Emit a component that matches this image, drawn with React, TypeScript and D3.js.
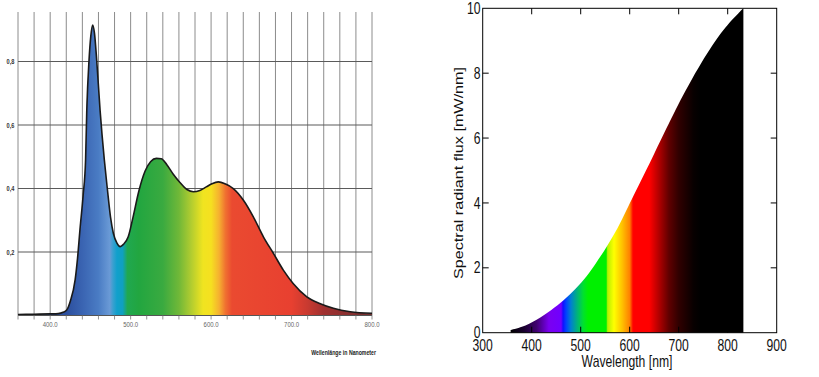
import React from "react";
import * as d3 from "d3";

// ---------- Left chart (LED spectrum) ----------
const leftWavelengths = [360, 380, 400, 410, 416, 420.5, 425, 431, 434, 437, 441, 444, 445.5, 448.3, 450.5, 452.8, 455, 457.8, 462, 467.3, 471, 475, 478.5, 483, 487, 491, 497, 503, 510, 518, 525, 532, 538, 545, 553, 561, 570, 578, 586, 594, 601, 609, 618, 627.6, 640, 652.5, 665, 677.4, 689.8, 702, 719, 735, 752, 773, 800];
const leftValues = [0.003, 0.004, 0.005, 0.006, 0.01, 0.017, 0.045, 0.112, 0.18, 0.27, 0.38, 0.49, 0.647, 0.805, 0.88, 0.915, 0.89, 0.805, 0.647, 0.49, 0.4, 0.31, 0.259, 0.228, 0.217, 0.224, 0.248, 0.31, 0.39, 0.455, 0.485, 0.495, 0.494, 0.475, 0.445, 0.42, 0.397, 0.39, 0.394, 0.405, 0.415, 0.421, 0.414, 0.4, 0.364, 0.311, 0.248, 0.196, 0.143, 0.101, 0.059, 0.038, 0.023, 0.012, 0.007];
const leftXTicks = [400, 500, 600, 700, 800];
const leftXGrid = d3.range(360, 801, 20);
const leftYTicks = [0.2, 0.4, 0.6, 0.8];
const leftStopWl = [360, 420, 440, 460, 474, 478, 483, 490, 496, 510, 540, 560, 575, 590, 600, 610, 618, 626, 700, 720, 740, 770, 800];
const leftStopColor = ["#2c4f9e", "#2c4f9e", "#3a64b2", "#4a7cc4", "#6a9ad6", "#3aa0d0", "#10a0cc", "#10a0c0", "#20a850", "#22a640", "#3aaa40", "#70b838", "#b0cc30", "#f0e420", "#f5e020", "#f5b030", "#f07030", "#ea4a30", "#e84030", "#c83a30", "#a03030", "#8a3030", "#703030"];

// ---------- Right chart (spectral radiant flux) ----------
const rightWavelengths = [357, 380, 410, 440, 465, 490, 512, 530, 553, 575, 594, 607, 630, 650, 675, 690, 709, 730, 744, 760, 778, 795, 811, 822, 832];
const rightValues = [0.08, 0.18, 0.4, 0.7, 1.0, 1.36, 1.74, 2.12, 2.65, 3.22, 3.8, 4.2, 4.9, 5.52, 6.3, 6.76, 7.32, 7.9, 8.26, 8.65, 9.06, 9.4, 9.68, 9.85, 10.0];
const rightXTicks = [300, 400, 500, 600, 700, 800, 900];
const rightYTicks = [0, 2, 4, 6, 8, 10];
const rightStopWl = [357, 385, 410, 435, 460, 464, 470, 480, 492, 505, 515, 552, 555, 568, 585, 600, 606, 608, 640, 660, 680, 700, 730, 745, 832];
const rightStopColor = ["#000000", "#1a0030", "#400070", "#7a00f0", "#7000ff", "#1010ff", "#0040ff", "#0080d0", "#00b080", "#00e030", "#00f000", "#00f000", "#b8f000", "#ffff00", "#ffc000", "#ff8000", "#ff1000", "#ff0000", "#ff0000", "#b00000", "#600000", "#300000", "#080000", "#000000", "#000000"];

export default function App() {
  const lx = d3.scaleLinear().domain([360, 800]).range([18, 372]);
  const ly = d3.scaleLinear().domain([0, 0.956]).range([315.5, 12]);
  const rx = d3.scaleLinear().domain([300, 900]).range([482.7, 776.7]);
  const ry = d3.scaleLinear().domain([0, 10]).range([332.7, 8.3]);

  const leftData = leftWavelengths.map((w, i) => [w, leftValues[i]] as [number, number]);
  const rightData = rightWavelengths.map((w, i) => [w, rightValues[i]] as [number, number]);

  const leftArea = d3.area<[number, number]>().x(d => lx(d[0])).y0(ly(0)).y1(d => ly(d[1])).curve(d3.curveMonotoneX)(leftData) || "";
  const leftLine = d3.line<[number, number]>().x(d => lx(d[0])).y(d => ly(d[1])).curve(d3.curveMonotoneX)(leftData) || "";
  const rightArea = d3.area<[number, number]>().x(d => rx(d[0])).y0(ry(0)).y1(d => ry(d[1])).curve(d3.curveCatmullRom.alpha(0.5))(rightData) || "";

  const lg0 = lx(leftStopWl[0]), lg1 = lx(leftStopWl[leftStopWl.length - 1]);
  const rg0 = rx(rightStopWl[0]), rg1 = rx(rightStopWl[rightStopWl.length - 1]);

  const narrow = "'Liberation Sans', Arial, sans-serif";
  const tickLen = 6;

  return (
    <svg width={819} height={377} style={{ position: "absolute", left: 0, top: 0, background: "#fff" }}>
      <defs>
        <linearGradient id="leftGrad" gradientUnits="userSpaceOnUse" x1={lg0} x2={lg1} y1={0} y2={0}>
          {leftStopWl.map((w, i) => (
            <stop key={i} offset={(lx(w) - lg0) / (lg1 - lg0)} stopColor={leftStopColor[i]} />
          ))}
        </linearGradient>
        <linearGradient id="rightGrad" gradientUnits="userSpaceOnUse" x1={rg0} x2={rg1} y1={0} y2={0}>
          {rightStopWl.map((w, i) => (
            <stop key={i} offset={(rx(w) - rg0) / (rg1 - rg0)} stopColor={rightStopColor[i]} />
          ))}
        </linearGradient>
      </defs>

      {/* ---- Left chart ---- */}
      <g>
        {leftXGrid.map(w => (
          <line key={"vg" + w} x1={lx(w)} x2={lx(w)} y1={12} y2={ly(0)} stroke="#8c8c8c" strokeWidth={1} />
        ))}
        {leftYTicks.map(v => (
          <line key={"hg" + v} x1={18} x2={372} y1={ly(v)} y2={ly(v)} stroke="#5a5a5a" strokeWidth={1.1} />
        ))}
        <path d={leftArea} fill="url(#leftGrad)" />
        <path d={leftLine} fill="none" stroke="#1a1a1a" strokeWidth={1.6} />
        <line x1={18} x2={372} y1={ly(0)} y2={ly(0)} stroke="#555" strokeWidth={1} />
        {leftXGrid.map(w => (
          <line key={"xt" + w} x1={lx(w)} x2={lx(w)} y1={ly(0)} y2={ly(0) + 4} stroke="#777" strokeWidth={0.8} />
        ))}
        {leftXTicks.map(w => (
          <text key={"xl" + w} transform={`translate(${lx(w)},${327}) scale(0.8,1)`} textAnchor="middle" fontSize={7.5} fontFamily={narrow} fill="#666">
            {w.toFixed(1)}
          </text>
        ))}
        {leftYTicks.map(v => (
          <text key={"yl" + v} transform={`translate(${10.5},${ly(v) + 2.6}) scale(0.75,1)`} textAnchor="middle" fontSize={7.5} fontWeight="bold" fontFamily={narrow} fill="#333">
            {String(v).replace(".", ",")}
          </text>
        ))}
        <text transform={`translate(${376},${355}) scale(0.65,1)`} textAnchor="end" fontSize={8} fontWeight="bold" fontFamily={narrow} fill="#222">
          Wellenlänge in Nanometer
        </text>
      </g>

      {/* ---- Right chart ---- */}
      <g>
        <path d={rightArea} fill="url(#rightGrad)" />
        <rect x={482.7} y={8.3} width={294} height={324.4} fill="none" stroke="#000" strokeWidth={1} />
        {rightXTicks.slice(1, -1).map(w => (
          <g key={"rxt" + w}>
            <line x1={rx(w)} x2={rx(w)} y1={ry(0)} y2={ry(0) - tickLen} stroke="#000" strokeWidth={1} />
            <line x1={rx(w)} x2={rx(w)} y1={ry(10)} y2={ry(10) + tickLen} stroke="#000" strokeWidth={1} />
          </g>
        ))}
        {rightYTicks.slice(1, -1).map(v => (
          <g key={"ryt" + v}>
            <line x1={rx(300)} x2={rx(300) + tickLen} y1={ry(v)} y2={ry(v)} stroke="#000" strokeWidth={1} />
            <line x1={rx(900)} x2={rx(900) - tickLen} y1={ry(v)} y2={ry(v)} stroke="#000" strokeWidth={1} />
          </g>
        ))}
        {rightXTicks.map(w => (
          <text key={"rxl" + w} transform={`translate(${rx(w)},${350.5}) scale(0.77,1)`} textAnchor="middle" fontSize={15.8} fontFamily={narrow} fill="#111">
            {w}
          </text>
        ))}
        {rightYTicks.map(v => (
          <text key={"ryl" + v} transform={`translate(${480.5},${ry(v) + 5.6}) scale(0.77,1)`} textAnchor="end" fontSize={15.8} fontFamily={narrow} fill="#111">
            {v}
          </text>
        ))}
        <text transform={`translate(${627},${366.5}) scale(0.77,1)`} textAnchor="middle" fontSize={15.8} fontFamily={narrow} fill="#111">
          Wavelength [nm]
        </text>
        <text transform={`translate(${462.5},${173}) scale(0.77,1) rotate(-90)`} textAnchor="middle" fontSize={16.2} fontFamily={narrow} fill="#111">
          Spectral radiant flux [mW/nm]
        </text>
      </g>
    </svg>
  );
}
